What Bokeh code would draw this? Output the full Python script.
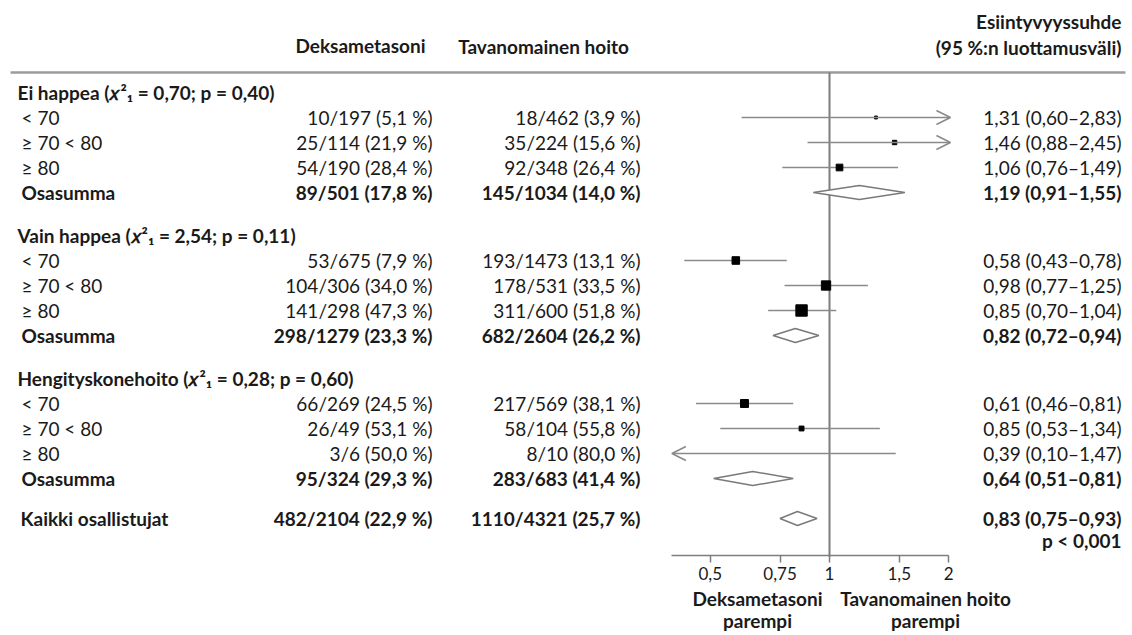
import numpy as np
from bokeh.plotting import figure
from bokeh.models import (Range1d, LogScale, LogAxis, FixedTicker, Arrow, OpenHead,
                          ColumnDataSource)
from bokeh.core.properties import value
from bokeh.embed import file_html
from bokeh.resources import INLINE

# ---------------- data ----------------
groups = ["Ei happea", "Vain happea", "Hengityskonehoito"]
chi2_vals = ["0,70", "2,54", "0,28"]
group_p = ["0,40", "0,11", "0,60"]
sub_labels = ["< 70", "≥ 70 < 80", "≥ 80", "Osasumma"]

dex_events = [10, 25, 54, 89, 53, 104, 141, 298, 66, 26, 3, 95]
dex_totals = [197, 114, 190, 501, 675, 306, 298, 1279, 269, 49, 6, 324]
dex_pct = [5.1, 21.9, 28.4, 17.8, 7.9, 34.0, 47.3, 23.3, 24.5, 53.1, 50.0, 29.3]
usual_events = [18, 35, 92, 145, 193, 178, 311, 682, 217, 58, 8, 283]
usual_totals = [462, 224, 348, 1034, 1473, 531, 600, 2604, 569, 104, 10, 683]
usual_pct = [3.9, 15.6, 26.4, 14.0, 13.1, 33.5, 51.8, 26.2, 38.1, 55.8, 80.0, 41.4]
or_est = [1.31, 1.46, 1.06, 1.19, 0.58, 0.98, 0.85, 0.82, 0.61, 0.85, 0.39, 0.64]
or_lo = [0.60, 0.88, 0.76, 0.91, 0.43, 0.77, 0.70, 0.72, 0.46, 0.53, 0.10, 0.51]
or_hi = [2.83, 2.45, 1.49, 1.55, 0.78, 1.25, 1.04, 0.94, 0.81, 1.34, 1.47, 0.81]

total_label = "Kaikki osallistujat"
total_dex = [482, 2104, 22.9]
total_usual = [1110, 4321, 25.7]
total_or = [0.83, 0.75, 0.93]
total_p = "p < 0,001"

col_headers = ["Deksametasoni", "Tavanomainen hoito"]
or_header = ["Esiintyvyyssuhde", "(95 %:n luottamusväli)"]
axis_ticks = [0.5, 0.75, 1.0, 1.5, 2.0]
axis_tick_labels = ["0,5", "0,75", "1", "1,5", "2"]
favours = [("Deksametasoni", "parempi"), ("Tavanomainen hoito", "parempi")]

# ---------------- helpers / layout ----------------
def fi(x, d):
    return f"{x:.{d}f}".replace(".", ",")

def cnt(e, n, pc):
    return f"{e}/{n} ({fi(pc, 1)} %)"

def ortxt(e, l, h):
    return f"{fi(e, 2)} ({fi(l, 2)}–{fi(h, 2)})"

FONT = value("Lato")
FS = "19px"
TXT = "#1a1a1a"
GRAY = "#8a8a8a"

Y0, STEP, GSTEP = 92, 25, 143
Y_TOTAL = 518
X_ONE, PX_PER_LN = 829, 172
LOW_CLIP, HIGH_CLIP = 0.40, 2.02

W, H = 1132, 635
p = figure(width=W, height=H, x_range=Range1d(0, W), y_range=Range1d(H, 0),
           output_backend="svg", toolbar_location=None,
           x_axis_location=None, y_axis_location=None, min_border=0,
           outline_line_color=None)
p.grid.visible = False
p.extra_x_ranges = {"or": Range1d(np.exp((0 - X_ONE) / PX_PER_LN),
                                  np.exp((W - X_ONE) / PX_PER_LN))}
p.extra_x_scales = {"or": LogScale()}

# row y positions
hdr_y, row_y = [], []
for g in range(len(groups)):
    hy = Y0 + g * GSTEP
    hdr_y.append(hy)
    for r in range(len(sub_labels)):
        row_y.append(hy + (r + 1) * STEP)

n = len(or_est)
is_sum = [(i % 4) == 3 for i in range(n)]

# ---------------- texts ----------------
def add_text(xs, ys, texts, align, bold, fs=FS, baseline="middle"):
    p.text(x=xs, y=ys, text=texts, text_font=FONT, text_font_size=fs,
           text_align=align, text_baseline=baseline, text_color=TXT,
           text_font_style="bold" if bold else "normal")

# column headers
add_text([360, 543], [45, 46], col_headers, "center", True)
add_text([1121, 1121], [21, 47], or_header, "right", True)

# group headers
add_text([17] * 3, hdr_y,
         [f"{g} (𝑥²₁ = {c}; p = {pv})" for g, c, pv in zip(groups, chi2_vals, group_p)],
         "left", True)

for bold in (False, True):
    idx = [i for i in range(n) if is_sum[i] == bold]
    ys = [row_y[i] for i in idx]
    add_text([21] * len(idx), ys, [sub_labels[i % 4] for i in idx], "left", bold)
    add_text([432] * len(idx), ys,
             [cnt(dex_events[i], dex_totals[i], dex_pct[i]) for i in idx], "right", bold)
    add_text([640] * len(idx), ys,
             [cnt(usual_events[i], usual_totals[i], usual_pct[i]) for i in idx], "right", bold)
    add_text([1121] * len(idx), ys,
             [ortxt(or_est[i], or_lo[i], or_hi[i]) for i in idx], "right", bold)

add_text([20], [Y_TOTAL], [total_label], "left", True)
add_text([432], [Y_TOTAL], [cnt(*total_dex)], "right", True)
add_text([640], [Y_TOTAL], [cnt(*total_usual)], "right", True)
add_text([1121], [Y_TOTAL], [ortxt(*total_or)], "right", True)
add_text([1121], [Y_TOTAL + 22], [total_p], "right", True)

# favours labels
add_text([757, 925], [598, 598], [favours[0][0], favours[1][0]], "center", True)
add_text([757, 925], [620, 620], [favours[0][1], favours[1][1]], "center", True,
         baseline="alphabetic")

# ---------------- lines ----------------
p.segment(x0=[10], x1=[1125], y0=[72], y1=[72], line_color="#9c9c9c", line_width=2.5)
p.segment(x0=[1.0], x1=[1.0], y0=[72], y1=[556], line_color="#7d7d7d", line_width=2,
          x_range_name="or")

# ---------------- forest ----------------
ind = [i for i in range(n) if not is_sum[i]]
plain = [i for i in ind if or_lo[i] >= LOW_CLIP and or_hi[i] <= HIGH_CLIP]
p.segment(x0=[or_lo[i] for i in plain], x1=[or_hi[i] for i in plain],
          y0=[row_y[i] for i in plain], y1=[row_y[i] for i in plain],
          line_color=GRAY, line_width=1.6, x_range_name="or")

clipped = [i for i in ind if i not in plain]
x0s, x1s, ays = [], [], []
for i in clipped:
    if or_hi[i] > HIGH_CLIP:
        x0s.append(max(or_lo[i], LOW_CLIP)); x1s.append(HIGH_CLIP)
    else:
        x0s.append(min(or_hi[i], HIGH_CLIP)); x1s.append(LOW_CLIP)
    ays.append(row_y[i])
asrc = ColumnDataSource(dict(x0=x0s, x1=x1s, y=ays))
p.add_layout(Arrow(end=OpenHead(size=14, line_color=GRAY, line_width=1.6),
                   x_start="x0", y_start="y", x_end="x1", y_end="y", source=asrc,
                   line_color=GRAY, line_width=1.6, x_range_name="or"))

# squares sized by inverse variance (only those inside the plotted range)
vis = [i for i in ind if LOW_CLIP <= or_est[i] <= HIGH_CLIP]
se = [(np.log(or_hi[i]) - np.log(or_lo[i])) / 3.92 for i in vis]
sizes = [1.15 / s for s in se]
p.scatter(x=[or_est[i] for i in vis], y=[row_y[i] for i in vis], size=sizes,
          marker="square", fill_color="black", line_color="black", x_range_name="or")

# diamonds
HALF = 7
dx, dy = [], []
for i in range(n):
    if is_sum[i]:
        y = row_y[i]
        dx.append([or_lo[i], or_est[i], or_hi[i], or_est[i]])
        dy.append([y, y - HALF, y, y + HALF])
dx.append([total_or[1], total_or[0], total_or[2], total_or[0]])
dy.append([Y_TOTAL, Y_TOTAL - HALF, Y_TOTAL, Y_TOTAL + HALF])
p.patches(xs=dx, ys=dy, fill_color="white", line_color="#7a7a7a", line_width=1.5,
          x_range_name="or")

# ---------------- axis ----------------
ax = LogAxis(x_range_name="or", fixed_location=555, bounds=(LOW_CLIP, 2.0),
             ticker=FixedTicker(ticks=axis_ticks),
             major_label_overrides={t: l for t, l in zip(axis_ticks, axis_tick_labels)},
             axis_line_color="#7d7d7d", axis_line_width=1.6,
             major_tick_line_color="#7d7d7d", major_tick_line_width=1.5,
             major_tick_out=7, major_tick_in=0, minor_tick_line_color=None,
             major_label_text_font="Lato", major_label_text_font_size="17px",
             major_label_text_color=TXT, major_label_standoff=4)
p.add_layout(ax, "below")

open("out.html", "w").write(file_html(p, INLINE))
